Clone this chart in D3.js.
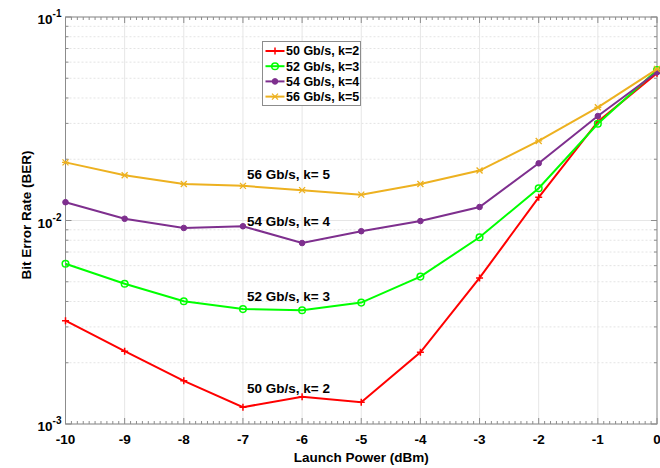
<!DOCTYPE html>
<html>
<head>
<meta charset="utf-8">
<script src="https://cdn.jsdelivr.net/npm/d3@7"></script>
<style>
  body { margin: 0; background: #fff; }
  text { font-family: "Liberation Sans", Arial, sans-serif; }
</style>
</head>
<body>
<script>
//launch power values (dBm)
var power = [-10, -9, -8, -7, -6, -5, -4, -3, -2, -1, 0];

//BER values
var ber50 = [0.00322, 0.00228, 0.00163, 0.00121, 0.00136, 0.00128, 0.00225, 0.00522, 0.0130, 0.0306, 0.0529];
var ber52 = [0.00613, 0.00489, 0.00401, 0.00367, 0.00362, 0.00395, 0.00530, 0.00827, 0.0144, 0.0299, 0.0549];
var ber54 = [0.0123, 0.0102, 0.00919, 0.00937, 0.00775, 0.00886, 0.00994, 0.01165, 0.0191, 0.0326, 0.0535];
var ber56 = [0.0193, 0.0167, 0.0151, 0.0148, 0.0141, 0.0134, 0.0151, 0.0176, 0.0246, 0.0360, 0.0555];

var seriesNames = ["50 Gb/s, k=2", "52 Gb/s, k=3", "54 Gb/s, k=4", "56 Gb/s, k=5"];
var notes = ["50 Gb/s, k= 2", "52 Gb/s, k= 3", "54 Gb/s, k= 4", "56 Gb/s, k= 5"];
var notePos = [[-6.23, 0.00149], [-6.23, 0.00422], [-6.23, 0.00987], [-6.23, 0.0169]];
var xTicks = [-10, -9, -8, -7, -6, -5, -4, -3, -2, -1, 0];
var yDecades = [-3, -2, -1];

var colors = ["#ff0000", "#00ff00", "#7e2f8e", "#edb120"];
var markers = ["plus", "circle", "dot", "star"];
var allSeries = [ber50, ber52, ber54, ber56];

var width = 660, height = 468;
var margin = {left: 65.5, right: 3, top: 17, bottom: 44};

var svg = d3.select("body").append("svg")
    .attr("width", width)
    .attr("height", height);

var x = d3.scaleLinear()
    .domain([-10, 0])
    .range([margin.left, width - margin.right]);

var y = d3.scaleLog()
    .domain([1e-3, 1e-1])
    .range([height - margin.bottom, margin.top]);

var x0 = x.range()[0], x1 = x.range()[1];
var y0 = y.range()[0], y1 = y.range()[1];

//minor log values
var minorY = [];
[1e-3, 1e-2].forEach(function(d){
    for (var m = 2; m <= 9; m++) minorY.push(d * m);
});
var minorX = d3.range(-100, 1).map(function(d){ return d / 10; })
    .filter(function(d){ return xTicks.indexOf(d) < 0; });

var grid = svg.append("g");

//minor horizontal grid (dotted)
grid.selectAll(".ymin").data(minorY).enter().append("line")
    .attr("x1", x0).attr("x2", x1)
    .attr("y1", function(d){ return y(d); })
    .attr("y2", function(d){ return y(d); })
    .attr("stroke", "#e4e4e4")
    .attr("stroke-dasharray", "2,2");

//major grid
grid.selectAll(".ymaj").data(yDecades).enter().append("line")
    .attr("x1", x0).attr("x2", x1)
    .attr("y1", function(d){ return y(Math.pow(10, d)); })
    .attr("y2", function(d){ return y(Math.pow(10, d)); })
    .attr("stroke", "#e6e6e6");

grid.selectAll(".xmaj").data(xTicks).enter().append("line")
    .attr("y1", y0).attr("y2", y1)
    .attr("x1", function(d){ return x(d); })
    .attr("x2", function(d){ return x(d); })
    .attr("stroke", "#e6e6e6");

//axis box and ticks
var ax = svg.append("g").attr("stroke", "#8c8c8c").attr("fill", "none");
ax.append("rect")
    .attr("x", x0).attr("y", y1)
    .attr("width", x1 - x0).attr("height", y0 - y1);

xTicks.forEach(function(d){
    ax.append("line").attr("x1", x(d)).attr("x2", x(d)).attr("y1", y0).attr("y2", y0 - 6);
    ax.append("line").attr("x1", x(d)).attr("x2", x(d)).attr("y1", y1).attr("y2", y1 + 6);
});
minorX.forEach(function(d){
    ax.append("line").attr("x1", x(d)).attr("x2", x(d)).attr("y1", y0).attr("y2", y0 - 3);
    ax.append("line").attr("x1", x(d)).attr("x2", x(d)).attr("y1", y1).attr("y2", y1 + 3);
});
minorY.forEach(function(d){
    ax.append("line").attr("y1", y(d)).attr("y2", y(d)).attr("x1", x0).attr("x2", x0 + 3);
    ax.append("line").attr("y1", y(d)).attr("y2", y(d)).attr("x1", x1).attr("x2", x1 - 3);
});
yDecades.forEach(function(d){
    var v = Math.pow(10, d);
    ax.append("line").attr("y1", y(v)).attr("y2", y(v)).attr("x1", x0).attr("x2", x0 + 6);
    ax.append("line").attr("y1", y(v)).attr("y2", y(v)).attr("x1", x1).attr("x2", x1 - 6);
});

//tick labels
svg.selectAll(".xlab").data(xTicks).enter().append("text")
    .attr("x", function(d){ return x(d); })
    .attr("y", y0 + 20)
    .attr("text-anchor", "middle")
    .style("font-size", "13.5px")
    .style("font-weight", "bold")
    .text(function(d){ return d; });

yDecades.forEach(function(d){
    var t = svg.append("text")
        .attr("x", x0 - 4)
        .attr("y", y(Math.pow(10, d)) + 7)
        .attr("text-anchor", "end")
        .style("font-size", "13.5px")
        .style("font-weight", "bold");
    t.append("tspan").text("10");
    t.append("tspan").attr("dy", -7).style("font-size", "10px").text(d);
});

//axis titles
svg.append("text")
    .attr("x", (x0 + x1) / 2)
    .attr("y", height - 6)
    .attr("text-anchor", "middle")
    .style("font-size", "13.5px")
    .style("font-weight", "bold")
    .text("Launch Power (dBm)");

svg.append("text")
    .attr("transform", "translate(31,215) rotate(-90)")
    .attr("text-anchor", "middle")
    .style("font-size", "13.5px")
    .style("font-weight", "bold")
    .text("Bit Error Rate (BER)");

//draw a marker at (cx, cy)
function drawMarker(g, type, cx, cy, color){
    if (type == "plus"){
        g.append("path").attr("d", "M" + (cx - 3.5) + "," + cy + "h7M" + cx + "," + (cy - 3.5) + "v7")
            .attr("stroke", color).attr("stroke-width", 1.5);
    } else if (type == "circle"){
        g.append("circle").attr("cx", cx).attr("cy", cy).attr("r", 3.3)
            .attr("fill", "none").attr("stroke", color).attr("stroke-width", 1.5);
    } else if (type == "dot"){
        g.append("circle").attr("cx", cx).attr("cy", cy).attr("r", 2.8)
            .attr("fill", color).attr("stroke", color);
    } else {
        g.append("path").attr("d", "M" + (cx - 3) + "," + (cy - 3) + "l6,6M" + (cx - 3) + "," + (cy + 3) + "l6,-6M" + (cx - 3.5) + "," + cy + "h7")
            .attr("stroke", color).attr("stroke-width", 1.3);
    }
}

var line = d3.line()
    .x(function(d, i){ return x(power[i]); })
    .y(function(d){ return y(d); });

allSeries.forEach(function(s, k){
    var g = svg.append("g");
    g.append("path")
        .attr("d", line(s))
        .attr("fill", "none")
        .attr("stroke", colors[k])
        .attr("stroke-width", 2);
    s.forEach(function(v, i){
        drawMarker(g, markers[k], x(power[i]), y(v), colors[k]);
    });
});

//annotations
notes.forEach(function(n, k){
    svg.append("text")
        .attr("x", x(notePos[k][0]))
        .attr("y", y(notePos[k][1]))
        .attr("text-anchor", "middle")
        .attr("dy", "0.35em")
        .style("font-size", "13.5px")
        .style("font-weight", "bold")
        .text(n);
});

//legend
var legend = svg.append("g").attr("transform", "translate(262.5,41.5)");
legend.append("rect")
    .attr("width", 98).attr("height", 64)
    .attr("fill", "#fff")
    .attr("stroke", "#8c8c8c");
seriesNames.forEach(function(n, k){
    var ly = 9.5 + k * 15.2;
    legend.append("line")
        .attr("x1", 3).attr("x2", 22)
        .attr("y1", ly).attr("y2", ly)
        .attr("stroke", colors[k]).attr("stroke-width", 2);
    drawMarker(legend, markers[k], 12.5, ly, colors[k]);
    legend.append("text")
        .attr("x", 23.5).attr("y", ly)
        .attr("dy", "0.35em")
        .style("font-size", "12.5px")
        .style("font-weight", "bold")
        .text(n);
});
</script>
</body>
</html>
